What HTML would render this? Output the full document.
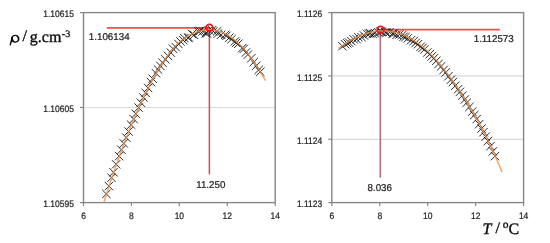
<!DOCTYPE html>
<html><head><meta charset="utf-8"><style>
html,body{margin:0;padding:0;background:#fff;width:550px;height:243px;overflow:hidden}
svg{display:block;will-change:transform}
text{text-rendering:geometricPrecision}
.ax{font-family:"Liberation Sans",sans-serif;fill:#262626;stroke:#262626;stroke-width:0.24px}
.an{font-family:"Liberation Sans",sans-serif;fill:#262626;stroke:#262626;stroke-width:0.24px}
.tt{font-family:"Liberation Serif",serif;font-size:15px;fill:#111}
</style></head><body>
<svg width="550" height="243" viewBox="0 0 550 243">
<rect width="550" height="243" fill="#fff"/>
<line x1="83.5" y1="107.5" x2="275.2" y2="107.5" stroke="#d9d9d9" stroke-width="1.2"/>
<rect x="83.5" y="12.6" width="191.70" height="190.00" fill="none" stroke="#868686" stroke-width="1.4"/>
<line x1="80.0" y1="12.6" x2="83.5" y2="12.6" stroke="#868686" stroke-width="1.2"/>
<line x1="80.0" y1="107.5" x2="83.5" y2="107.5" stroke="#868686" stroke-width="1.2"/>
<line x1="80.0" y1="202.6" x2="83.5" y2="202.6" stroke="#868686" stroke-width="1.2"/>
<line x1="83.50" y1="202.6" x2="83.50" y2="205.9" stroke="#868686" stroke-width="1.2"/>
<text transform="translate(83.50 219.40) scale(0.9043 1)" text-anchor="middle" class="ax" font-size="9.4">6</text>
<line x1="131.43" y1="202.6" x2="131.43" y2="205.9" stroke="#868686" stroke-width="1.2"/>
<text transform="translate(131.43 219.40) scale(0.9043 1)" text-anchor="middle" class="ax" font-size="9.4">8</text>
<line x1="179.35" y1="202.6" x2="179.35" y2="205.9" stroke="#868686" stroke-width="1.2"/>
<text transform="translate(179.35 219.40) scale(0.9043 1)" text-anchor="middle" class="ax" font-size="9.4">10</text>
<line x1="227.27" y1="202.6" x2="227.27" y2="205.9" stroke="#868686" stroke-width="1.2"/>
<text transform="translate(227.27 219.40) scale(0.9043 1)" text-anchor="middle" class="ax" font-size="9.4">12</text>
<line x1="275.20" y1="202.6" x2="275.20" y2="205.9" stroke="#868686" stroke-width="1.2"/>
<text transform="translate(275.20 219.40) scale(0.9043 1)" text-anchor="middle" class="ax" font-size="9.4">14</text>
<text transform="translate(73.90 17.20) scale(0.9043 1)" text-anchor="end" class="ax" font-size="9.4">1.10615</text>
<text transform="translate(73.90 112.10) scale(0.9043 1)" text-anchor="end" class="ax" font-size="9.4">1.10605</text>
<text transform="translate(73.90 207.20) scale(0.9043 1)" text-anchor="end" class="ax" font-size="9.4">1.10595</text>
<line x1="331.8" y1="75.9" x2="523.6" y2="75.9" stroke="#d9d9d9" stroke-width="1.2"/>
<line x1="331.8" y1="139.3" x2="523.6" y2="139.3" stroke="#d9d9d9" stroke-width="1.2"/>
<rect x="331.8" y="12.6" width="191.80" height="190.00" fill="none" stroke="#868686" stroke-width="1.4"/>
<line x1="328.3" y1="12.6" x2="331.8" y2="12.6" stroke="#868686" stroke-width="1.2"/>
<line x1="328.3" y1="75.9" x2="331.8" y2="75.9" stroke="#868686" stroke-width="1.2"/>
<line x1="328.3" y1="139.3" x2="331.8" y2="139.3" stroke="#868686" stroke-width="1.2"/>
<line x1="328.3" y1="202.6" x2="331.8" y2="202.6" stroke="#868686" stroke-width="1.2"/>
<line x1="331.80" y1="202.6" x2="331.80" y2="205.9" stroke="#868686" stroke-width="1.2"/>
<text transform="translate(331.80 219.40) scale(0.9043 1)" text-anchor="middle" class="ax" font-size="9.4">6</text>
<line x1="379.75" y1="202.6" x2="379.75" y2="205.9" stroke="#868686" stroke-width="1.2"/>
<text transform="translate(379.75 219.40) scale(0.9043 1)" text-anchor="middle" class="ax" font-size="9.4">8</text>
<line x1="427.70" y1="202.6" x2="427.70" y2="205.9" stroke="#868686" stroke-width="1.2"/>
<text transform="translate(427.70 219.40) scale(0.9043 1)" text-anchor="middle" class="ax" font-size="9.4">10</text>
<line x1="475.65" y1="202.6" x2="475.65" y2="205.9" stroke="#868686" stroke-width="1.2"/>
<text transform="translate(475.65 219.40) scale(0.9043 1)" text-anchor="middle" class="ax" font-size="9.4">12</text>
<line x1="523.60" y1="202.6" x2="523.60" y2="205.9" stroke="#868686" stroke-width="1.2"/>
<text transform="translate(523.60 219.40) scale(0.9043 1)" text-anchor="middle" class="ax" font-size="9.4">14</text>
<text transform="translate(322.20 17.20) scale(0.9043 1)" text-anchor="end" class="ax" font-size="9.4">1.1126</text>
<text transform="translate(322.20 80.50) scale(0.9043 1)" text-anchor="end" class="ax" font-size="9.4">1.1125</text>
<text transform="translate(322.20 143.90) scale(0.9043 1)" text-anchor="end" class="ax" font-size="9.4">1.1124</text>
<text transform="translate(322.20 207.20) scale(0.9043 1)" text-anchor="end" class="ax" font-size="9.4">1.1123</text>
<line x1="106.8" y1="27.9" x2="209.3" y2="27.9" stroke="#ff4a4a" stroke-width="1.8"/>
<line x1="209.4" y1="27.9" x2="209.4" y2="174.4" stroke="#cc4e58" stroke-width="1.5"/>
<line x1="380.6" y1="29.7" x2="499.8" y2="29.7" stroke="#ff4a4a" stroke-width="1.8"/>
<line x1="380.3" y1="29.7" x2="380.3" y2="177.6" stroke="#b4706f" stroke-width="1.6"/>
<path d="M102.12 189.74L110.52 198.14M102.12 198.14L110.52 189.74M104.66 181.88L113.06 190.28M104.66 190.28L113.06 181.88M107.29 173.54L115.69 181.94M107.29 181.94L115.69 173.54M109.31 168.10L117.71 176.50M109.31 176.50L117.71 168.10M111.93 160.10L120.33 168.50M111.93 168.50L120.33 160.10M114.90 151.95L123.30 160.35M114.90 160.35L123.30 151.95M117.24 145.58L125.64 153.98M117.24 153.98L125.64 145.58M119.55 139.20L127.95 147.60M119.55 147.60L127.95 139.20M121.99 133.36L130.39 141.76M121.99 141.76L130.39 133.36M124.37 127.27L132.77 135.67M124.37 135.67L132.77 127.27M126.92 120.52L135.32 128.92M126.92 128.92L135.32 120.52M129.43 114.89L137.83 123.29M129.43 123.29L137.83 114.89M131.56 109.53L139.96 117.93M131.56 117.93L139.96 109.53M134.41 103.40L142.81 111.80M134.41 111.80L142.81 103.40M136.75 98.53L145.15 106.93M136.75 106.93L145.15 98.53M139.20 93.33L147.60 101.73M139.20 101.73L147.60 93.33M141.43 88.64L149.83 97.04M141.43 97.04L149.83 88.64M143.91 83.75L152.31 92.15M143.91 92.15L152.31 83.75M146.70 77.81L155.10 86.21M146.70 86.21L155.10 77.81M148.52 74.56L156.92 82.96M148.52 82.96L156.92 74.56M151.77 69.04L160.17 77.44M151.77 77.44L160.17 69.04M153.89 65.36L162.29 73.76M153.89 73.76L162.29 65.36M156.21 61.76L164.61 70.16M156.21 70.16L164.61 61.76M158.45 58.63L166.85 67.03M158.45 67.03L166.85 58.63M161.22 55.13L169.62 63.53M161.22 63.53L169.62 55.13M163.84 51.71L172.24 60.11M163.84 60.11L172.24 51.71M166.61 48.42L175.01 56.82M166.61 56.82L175.01 48.42M168.76 44.51L177.16 52.91M168.76 52.91L177.16 44.51M171.60 43.01L180.00 51.41M171.60 51.41L180.00 43.01M174.18 39.78L182.58 48.18M174.18 48.18L182.58 39.78M176.26 37.23L184.66 45.63M176.26 45.63L184.66 37.23M179.00 35.90L187.40 44.30M179.00 44.30L187.40 35.90M180.19 33.91L188.59 42.31M180.19 42.31L188.59 33.91M184.03 33.79L192.43 42.19M184.03 42.19L192.43 33.79M184.52 33.16L192.92 41.56M184.52 41.56L192.92 33.16M187.81 29.83L196.21 38.23M187.81 38.23L196.21 29.83M189.91 30.73L198.31 39.13M189.91 39.13L198.31 30.73M194.05 27.29L202.45 35.69M194.05 35.69L202.45 27.29M195.75 26.87L204.15 35.27M195.75 35.27L204.15 26.87M198.55 27.23L206.95 35.63M198.55 35.63L206.95 27.23M201.56 29.05L209.96 37.45M201.56 37.45L209.96 29.05M202.77 29.16L211.17 37.56M202.77 37.56L211.17 29.16M204.54 25.98L212.94 34.38M204.54 34.38L212.94 25.98M207.98 25.96L216.38 34.36M207.98 34.36L216.38 25.96M209.12 27.28L217.52 35.68M209.12 35.68L217.52 27.28M212.90 27.13L221.30 35.53M212.90 35.53L221.30 27.13M213.62 29.42L222.02 37.82M213.62 37.82L222.02 29.42M216.91 30.61L225.31 39.01M216.91 39.01L225.31 30.61M221.01 30.66L229.41 39.06M221.01 39.06L229.41 30.66M222.24 31.63L230.64 40.03M222.24 40.03L230.64 31.63M225.17 33.48L233.57 41.88M225.17 41.88L233.57 33.48M227.39 34.97L235.79 43.37M227.39 43.37L235.79 34.97M230.73 37.20L239.13 45.60M230.73 45.60L239.13 37.20M232.00 38.67L240.40 47.07M232.00 47.07L240.40 38.67M234.05 39.56L242.45 47.96M234.05 47.96L242.45 39.56M238.00 43.94L246.40 52.34M238.00 52.34L246.40 43.94M239.59 44.67L247.99 53.07M239.59 53.07L247.99 44.67M241.80 48.24L250.20 56.64M241.80 56.64L250.20 48.24M243.61 50.46L252.01 58.86M243.61 58.86L252.01 50.46M247.05 54.08L255.45 62.48M247.05 62.48L255.45 54.08M249.48 58.05L257.88 66.45M249.48 66.45L257.88 58.05M251.98 61.53L260.38 69.93M251.98 69.93L260.38 61.53M254.45 65.72L262.85 74.12M254.45 74.12L262.85 65.72M256.14 67.58L264.54 75.98M256.14 75.98L264.54 67.58" stroke="#151515" stroke-width="1.0" fill="none" opacity="0.9"/>
<path d="M338.18 42.01L346.58 50.41M338.18 50.41L346.58 42.01M340.95 40.06L349.35 48.46M340.95 48.46L349.35 40.06M343.15 39.09L351.55 47.49M343.15 47.49L351.55 39.09M344.80 38.32L353.20 46.72M344.80 46.72L353.20 38.32M347.09 36.92L355.49 45.32M347.09 45.32L355.49 36.92M349.47 35.13L357.87 43.53M349.47 43.53L357.87 35.13M352.38 34.91L360.78 43.31M352.38 43.31L360.78 34.91M354.20 33.09L362.60 41.49M354.20 41.49L362.60 33.09M357.43 33.04L365.83 41.44M357.43 41.44L365.83 33.04M359.69 31.25L368.09 39.65M359.69 39.65L368.09 31.25M362.81 29.60L371.21 38.00M362.81 38.00L371.21 29.60M364.95 29.48L373.35 37.88M364.95 37.88L373.35 29.48M365.88 28.92L374.28 37.32M365.88 37.32L374.28 28.92M368.55 29.80L376.95 38.20M368.55 38.20L376.95 29.80M370.61 28.99L379.01 37.39M370.61 37.39L379.01 28.99M373.96 28.14L382.36 36.54M373.96 36.54L382.36 28.14M376.11 27.30L384.51 35.70M376.11 35.70L384.51 27.30M377.36 27.57L385.76 35.97M377.36 35.97L385.76 27.57M381.10 28.07L389.50 36.47M381.10 36.47L389.50 28.07M382.65 28.47L391.05 36.87M382.65 36.87L391.05 28.47M385.30 28.11L393.70 36.51M385.30 36.51L393.70 28.11M388.34 29.37L396.74 37.77M388.34 37.77L396.74 29.37M389.60 29.34L398.00 37.74M389.60 37.74L398.00 29.34M392.50 30.57L400.90 38.97M392.50 38.97L400.90 30.57M395.22 30.27L403.62 38.67M395.22 38.67L403.62 30.27M397.99 30.94L406.39 39.34M397.99 39.34L406.39 30.94M399.36 32.56L407.76 40.96M399.36 40.96L407.76 32.56M401.28 32.91L409.68 41.31M401.28 41.31L409.68 32.91M403.48 34.21L411.88 42.61M403.48 42.61L411.88 34.21M406.95 35.90L415.35 44.30M406.95 44.30L415.35 35.90M409.44 36.99L417.84 45.39M409.44 45.39L417.84 36.99M411.52 38.71L419.92 47.11M411.52 47.11L419.92 38.71M413.71 40.01L422.11 48.41M413.71 48.41L422.11 40.01M416.38 42.61L424.78 51.01M416.38 51.01L424.78 42.61M418.27 43.73L426.67 52.13M418.27 52.13L426.67 43.73M420.15 45.31L428.55 53.71M420.15 53.71L428.55 45.31M423.16 48.28L431.56 56.68M423.16 56.68L431.56 48.28M425.67 49.92L434.07 58.32M425.67 58.32L434.07 49.92M427.59 52.20L435.99 60.60M427.59 60.60L435.99 52.20M429.63 54.12L438.03 62.52M429.63 62.52L438.03 54.12M432.13 56.57L440.53 64.97M432.13 64.97L440.53 56.57M434.42 59.71L442.82 68.11M434.42 68.11L442.82 59.71M436.84 62.22L445.24 70.62M436.84 70.62L445.24 62.22M439.37 65.81L447.77 74.21M439.37 74.21L447.77 65.81M441.51 68.25L449.91 76.65M441.51 76.65L449.91 68.25M444.18 72.06L452.58 80.46M444.18 80.46L452.58 72.06M446.72 75.47L455.12 83.87M446.72 83.87L455.12 75.47M448.69 77.86L457.09 86.26M448.69 86.26L457.09 77.86M451.10 81.56L459.50 89.96M451.10 89.96L459.50 81.56M453.87 85.01L462.27 93.41M453.87 93.41L462.27 85.01M455.67 87.71L464.07 96.11M455.67 96.11L464.07 87.71M458.06 91.45L466.46 99.85M458.06 99.85L466.46 91.45M460.66 95.28L469.06 103.68M460.66 103.68L469.06 95.28M462.60 98.44L471.00 106.84M462.60 106.84L471.00 98.44M465.21 102.75L473.61 111.15M465.21 111.15L473.61 102.75M467.97 107.44L476.37 115.84M467.97 115.84L476.37 107.44M470.01 110.91L478.41 119.31M470.01 119.31L478.41 110.91M472.47 114.87L480.87 123.27M472.47 123.27L480.87 114.87M474.98 119.96L483.38 128.36M474.98 128.36L483.38 119.96M477.31 124.37L485.71 132.77M477.31 132.77L485.71 124.37M479.32 127.98L487.72 136.38M479.32 136.38L487.72 127.98M481.47 132.41L489.87 140.81M481.47 140.81L489.87 132.41M483.79 136.75L492.19 145.15M483.79 145.15L492.19 136.75M486.25 141.97L494.65 150.37M486.25 150.37L494.65 141.97M488.69 147.17L497.09 155.57M488.69 155.57L497.09 147.17M490.80 151.93L499.20 160.33M490.80 160.33L499.20 151.93" stroke="#151515" stroke-width="1.0" fill="none" opacity="0.9"/>
<path d="M103.90 202.46 L105.26 198.10 L106.62 193.79 L107.98 189.55 L109.34 185.36 L110.69 181.23 L112.05 177.15 L113.41 173.14 L114.77 169.17 L116.13 165.27 L117.49 161.42 L118.85 157.62 L120.21 153.88 L121.56 150.19 L122.92 146.55 L124.28 142.97 L125.64 139.43 L127.00 135.95 L128.36 132.52 L129.72 129.15 L131.08 125.82 L132.44 122.54 L133.79 119.31 L135.15 116.13 L136.51 113.00 L137.87 109.92 L139.23 106.88 L140.59 103.89 L141.95 100.95 L143.31 98.06 L144.66 95.22 L146.02 92.42 L147.38 89.69 L148.74 87.00 L150.10 84.37 L151.46 81.79 L152.82 79.27 L154.18 76.80 L155.54 74.39 L156.89 72.04 L158.25 69.75 L159.61 67.52 L160.97 65.35 L162.33 63.24 L163.69 61.19 L165.05 59.21 L166.41 57.29 L167.76 55.43 L169.12 53.64 L170.48 51.92 L171.84 50.27 L173.20 48.68 L174.56 47.16 L175.92 45.71 L177.28 44.34 L178.64 43.03 L179.99 41.80 L181.35 40.63 L182.71 39.54 L184.07 38.52 L185.43 37.57 L186.79 36.68 L188.15 35.85 L189.51 35.08 L190.86 34.38 L192.22 33.73 L193.58 33.13 L194.94 32.59 L196.30 32.10 L197.66 31.66 L199.02 31.27 L200.38 30.92 L201.74 30.62 L203.09 30.37 L204.45 30.17 L205.81 30.02 L207.17 29.92 L208.53 29.87 L209.89 29.88 L211.25 29.94 L212.61 30.05 L213.96 30.22 L215.32 30.44 L216.68 30.72 L218.04 31.06 L219.40 31.46 L220.76 31.91 L222.12 32.42 L223.48 33.00 L224.84 33.63 L226.19 34.32 L227.55 35.08 L228.91 35.90 L230.27 36.77 L231.63 37.71 L232.99 38.72 L234.35 39.78 L235.71 40.91 L237.06 42.10 L238.42 43.35 L239.78 44.67 L241.14 46.05 L242.50 47.49 L243.86 49.00 L245.22 50.57 L246.58 52.21 L247.94 53.90 L249.29 55.66 L250.65 57.47 L252.01 59.34 L253.37 61.26 L254.73 63.23 L256.09 65.25 L257.45 67.31 L258.81 69.43 L260.16 71.58 L261.52 73.78 L262.88 76.01 L264.24 78.29 L265.60 80.60" stroke="#eb9550" stroke-width="1.55" stroke-opacity="0.82" fill="none"/>
<path d="M338.50 48.41 L339.87 47.40 L341.25 46.42 L342.62 45.46 L344.00 44.53 L345.37 43.63 L346.74 42.76 L348.12 41.91 L349.49 41.09 L350.87 40.30 L352.24 39.54 L353.61 38.81 L354.99 38.10 L356.36 37.43 L357.74 36.79 L359.11 36.18 L360.48 35.60 L361.86 35.05 L363.23 34.53 L364.61 34.05 L365.98 33.60 L367.35 33.18 L368.73 32.79 L370.10 32.44 L371.47 32.12 L372.85 31.84 L374.22 31.59 L375.60 31.38 L376.97 31.20 L378.34 31.05 L379.72 30.95 L381.09 30.88 L382.47 30.84 L383.84 30.85 L385.21 30.89 L386.59 30.97 L387.96 31.08 L389.34 31.23 L390.71 31.42 L392.08 31.65 L393.46 31.92 L394.83 32.23 L396.21 32.57 L397.58 32.95 L398.95 33.37 L400.33 33.83 L401.70 34.33 L403.08 34.87 L404.45 35.45 L405.82 36.06 L407.20 36.72 L408.57 37.42 L409.95 38.16 L411.32 38.93 L412.69 39.75 L414.07 40.61 L415.44 41.51 L416.82 42.45 L418.19 43.43 L419.56 44.45 L420.94 45.52 L422.31 46.62 L423.68 47.77 L425.06 48.96 L426.43 50.19 L427.81 51.47 L429.18 52.78 L430.55 54.14 L431.93 55.54 L433.30 56.99 L434.68 58.47 L436.05 60.01 L437.42 61.58 L438.80 63.19 L440.17 64.83 L441.55 66.52 L442.92 68.23 L444.29 69.97 L445.67 71.73 L447.04 73.52 L448.42 75.34 L449.79 77.18 L451.16 79.04 L452.54 80.92 L453.91 82.83 L455.29 84.77 L456.66 86.72 L458.03 88.70 L459.41 90.71 L460.78 92.74 L462.16 94.80 L463.53 96.89 L464.90 99.01 L466.28 101.17 L467.65 103.36 L469.03 105.58 L470.40 107.84 L471.77 110.14 L473.15 112.49 L474.52 114.87 L475.89 117.29 L477.27 119.76 L478.64 122.27 L480.02 124.83 L481.39 127.43 L482.76 130.07 L484.14 132.76 L485.51 135.49 L486.89 138.28 L488.26 141.10 L489.63 143.98 L491.01 146.90 L492.38 149.88 L493.76 152.90 L495.13 155.97 L496.50 159.09 L497.88 162.26 L499.25 165.49 L500.63 168.76 L502.00 172.09" stroke="#eb9550" stroke-width="1.55" stroke-opacity="0.82" fill="none"/>
<circle cx="209.45" cy="27.8" r="3.4" fill="none" stroke="#f01515" stroke-width="1.75"/>
<circle cx="380.6" cy="29.7" r="3.4" fill="none" stroke="#f01515" stroke-width="1.75"/>
<text transform="translate(88.80 39.50) scale(0.9899 1)" text-anchor="start" class="an" font-size="9.9">1.106134</text>
<text transform="translate(196.20 187.90) scale(0.9899 1)" text-anchor="start" class="an" font-size="9.9">11.250</text>
<text transform="translate(473.70 41.70) scale(0.9899 1)" text-anchor="start" class="an" font-size="9.9">1.112573</text>
<text transform="translate(367.50 190.90) scale(0.9899 1)" text-anchor="start" class="an" font-size="9.9">8.036</text>
<g transform="translate(0 0.5)"><g transform="rotate(-18 15.2 38.3)"><ellipse cx="15.2" cy="38.3" rx="4.25" ry="3.9" fill="#0a0a0a"/><ellipse cx="15.4" cy="38.25" rx="2.3" ry="2.75" fill="#fff"/></g><path d="M11.2 38.0 L13.0 38.6 L10.6 45.1 L9.4 44.8 Z" fill="#0a0a0a"/></g>
<text x="22.5" y="40.9" font-family="Liberation Serif" fill="#0a0a0a" stroke="#0a0a0a" stroke-width="0.35" font-size="16">/</text>
<text x="29.8" y="42.1" font-family="Liberation Serif" fill="#0a0a0a" stroke="#0a0a0a" stroke-width="0.35" font-size="16">g.cm</text>
<text x="61.8" y="36.6" font-family="Liberation Serif" fill="#0a0a0a" stroke="#0a0a0a" stroke-width="0.35" font-size="10">-3</text>
<text x="482.4" y="233.9" font-family="Liberation Serif" fill="#0a0a0a" stroke="#0a0a0a" stroke-width="0.35" font-size="16" font-style="italic">T</text>
<text x="495.5" y="233.0" font-family="Liberation Serif" fill="#0a0a0a" stroke="#0a0a0a" stroke-width="0.35" font-size="16">/</text>
<text x="502.8" y="228.3" font-family="Liberation Serif" fill="#0a0a0a" stroke="#0a0a0a" stroke-width="0.35" font-size="11.5">o</text>
<text x="508.4" y="234" font-family="Liberation Serif" fill="#0a0a0a" stroke="#0a0a0a" stroke-width="0.35" font-size="16">C</text>
</svg>
</body></html>
